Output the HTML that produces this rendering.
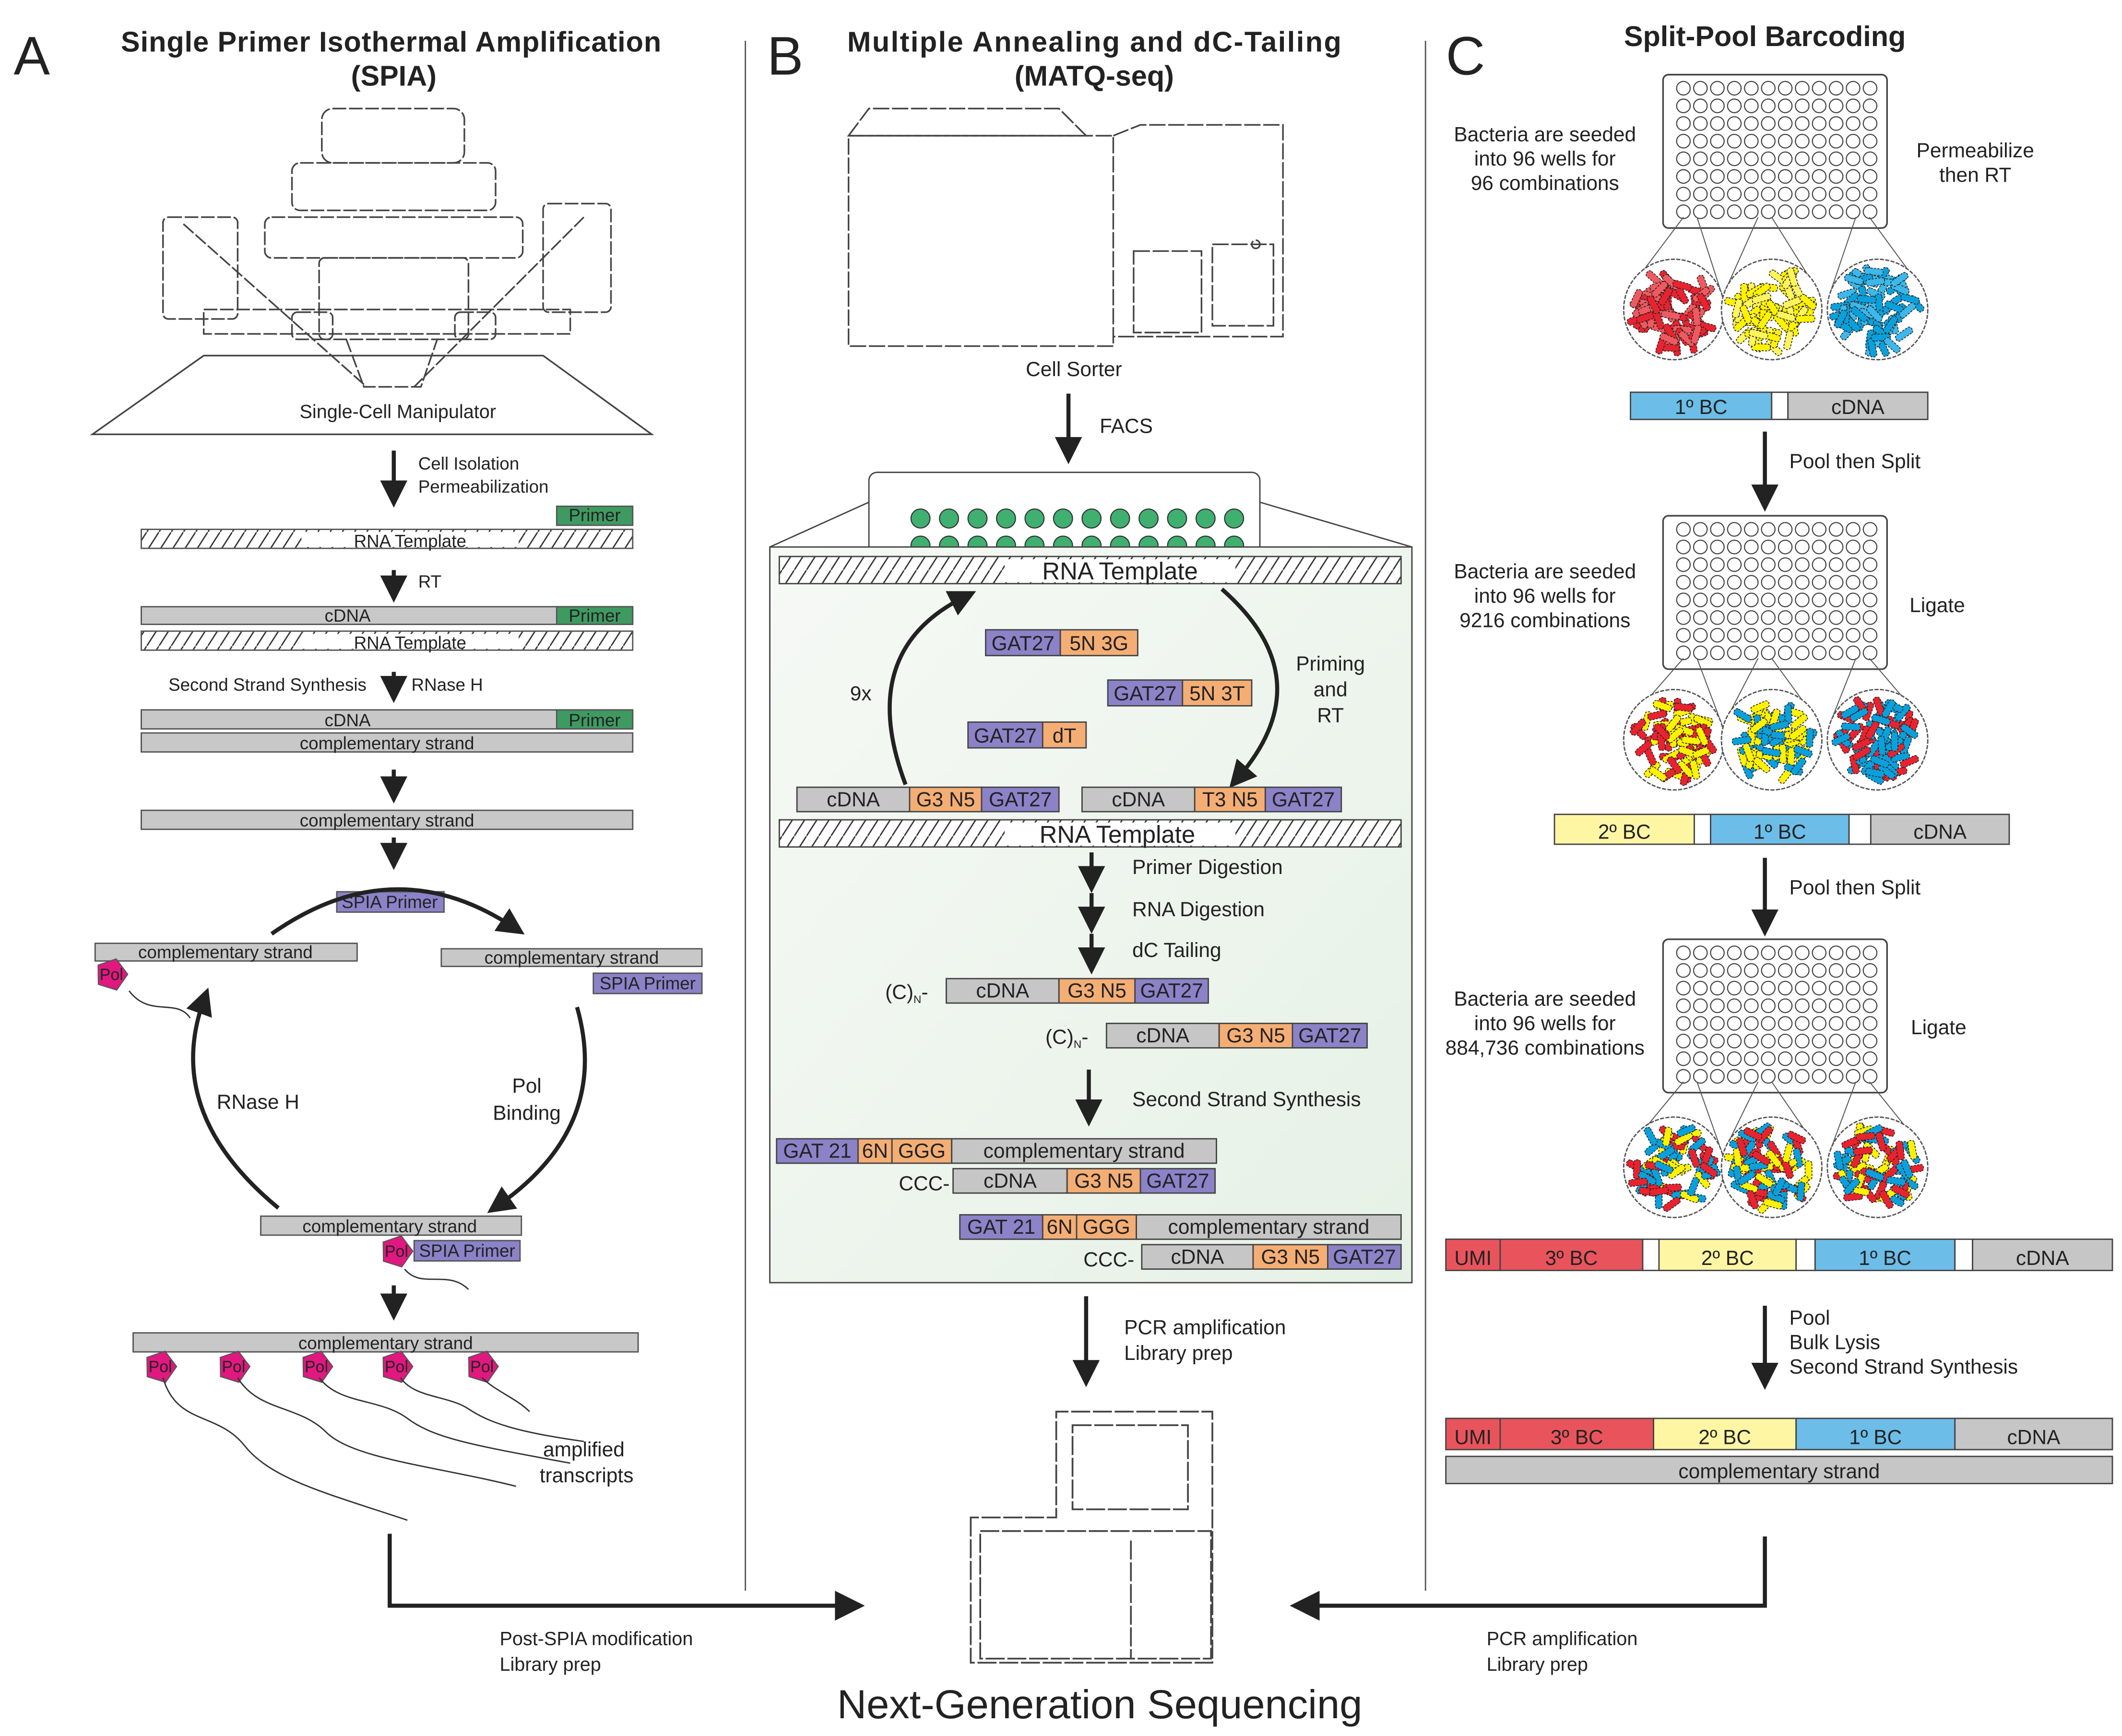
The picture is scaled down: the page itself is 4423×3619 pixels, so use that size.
<!DOCTYPE html>
<html><head><meta charset="utf-8"><style>
html,body{margin:0;padding:0;background:#fff;}
svg{display:block;}
text{font-family:"Liberation Sans",sans-serif;fill:#222;}
</style></head><body>
<svg id="s" xmlns="http://www.w3.org/2000/svg" width="4423" height="3619" viewBox="0 0 1563 1279">
<defs>
<pattern id="h" width="9" height="14" patternUnits="userSpaceOnUse"><rect width="9" height="14" fill="#fff"/><line x1="0" y1="14" x2="9" y2="0" stroke="#333" stroke-width="1"/></pattern>
<marker id="ar" markerWidth="20" markerHeight="20" refX="8" refY="8" orient="auto" markerUnits="userSpaceOnUse" viewBox="0 0 16 16"><path d="M0,0 L16,8 L0,16 z" fill="#222"/></marker>
<linearGradient id="gp" x1="0" y1="0" x2="1" y2="1"><stop offset="0" stop-color="#f6f9f5"/><stop offset="1" stop-color="#e6f1e6"/></linearGradient>
</defs>
<rect width="1563" height="1279" fill="#fff"/>
<line x1="549" y1="30" x2="549" y2="1172" stroke="#555" stroke-width="1"/>
<line x1="1050" y1="30" x2="1050" y2="1172" stroke="#555" stroke-width="1"/>
<text x="10" y="55" font-size="40">A</text>
<text x="565" y="55" font-size="40">B</text>
<text x="1065" y="55" font-size="40">C</text>
<g font-weight="bold" font-size="21" text-anchor="middle">
<text x="288" y="38" textLength="398">Single Primer Isothermal Amplification</text>
<text x="290" y="63">(SPIA)</text>
<text x="806" y="38" textLength="364">Multiple Annealing and dC-Tailing</text>
<text x="806" y="63">(MATQ-seq)</text>
<text x="1300" y="34">Split-Pool Barcoding</text>
</g>

<!-- Panel A microscope -->
<g fill="none" stroke="#444" stroke-width="1.2" stroke-dasharray="10 2">
<path d="M68,320 L480,320 L400,262 L150,262 Z" stroke-dasharray="none"/>
<rect x="237" y="80" width="105" height="40" rx="8"/>
<rect x="215" y="120" width="150" height="35" rx="6"/>
<rect x="195" y="160" width="190" height="30" rx="5"/>
<rect x="235" y="190" width="110" height="60" rx="4"/>
<rect x="120" y="160" width="55" height="75" rx="4"/>
<rect x="400" y="150" width="50" height="80" rx="4"/>
<rect x="150" y="228" width="270" height="18"/>
<line x1="135" y1="165" x2="270" y2="285"/>
<line x1="430" y1="160" x2="305" y2="285"/>
<rect x="215" y="230" width="30" height="20" rx="4"/>
<rect x="335" y="230" width="30" height="20" rx="4"/>
<path d="M255,250 L268,285 L310,285 L322,250"/>
</g>
<text x="293" y="308" font-size="14" text-anchor="middle">Single-Cell Manipulator</text>
<g stroke="#222" stroke-width="3" marker-end="url(#ar)">
<line x1="290" y1="332" x2="290" y2="364"/>
<line x1="290" y1="420" x2="290" y2="434"/>
<line x1="290" y1="495" x2="290" y2="508"/>
<line x1="290" y1="567" x2="290" y2="582"/>
<line x1="290" y1="617" x2="290" y2="631"/>
<line x1="290" y1="947" x2="290" y2="963"/>
</g>
<g font-size="13">
<text x="308" y="346">Cell Isolation</text><text x="308" y="363">Permeabilization</text>
<text x="308" y="433">RT</text>
<text x="124" y="509">Second Strand Synthesis</text><text x="303" y="509">RNase H</text>
</g>
<g stroke="#555" stroke-width="1">
<rect x="104" y="390" width="362" height="14" fill="url(#h)"/>
<rect x="410" y="373" width="56" height="14" fill="#3f9a62"/>
<rect x="104" y="447" width="362" height="13" fill="#c8c8c8"/>
<rect x="410" y="447" width="56" height="13" fill="#3f9a62"/>
<rect x="104" y="465" width="362" height="14" fill="url(#h)"/>
<rect x="104" y="523" width="362" height="14" fill="#c8c8c8"/>
<rect x="410" y="523" width="56" height="14" fill="#3f9a62"/>
<rect x="104" y="540" width="362" height="14" fill="#c8c8c8"/>
<rect x="104" y="597" width="362" height="14" fill="#c8c8c8"/>
<rect x="248" y="657" width="79" height="15" fill="#8b82c8"/>
<rect x="70" y="695" width="193" height="13" fill="#c8c8c8"/>
<rect x="325" y="699" width="192" height="13" fill="#c8c8c8"/>
<rect x="437" y="717" width="80" height="15" fill="#8b82c8"/>
<rect x="192" y="896" width="192" height="14" fill="#c8c8c8"/>
<rect x="305" y="914" width="78" height="15" fill="#8b82c8"/>
<rect x="98" y="982" width="372" height="14" fill="#c8c8c8"/>
</g>
<g font-size="13" text-anchor="middle">
<rect x="222" y="392" width="160" height="11" fill="#fff"/>
<text x="302" y="403">RNA Template</text>
<text x="438" y="384" fill="#e8f5ea">Primer</text>
<text x="256" y="458">cDNA</text><text x="438" y="458" fill="#e8f5ea">Primer</text>
<rect x="222" y="467" width="160" height="11" fill="#fff"/>
<text x="302" y="478">RNA Template</text>
<text x="256" y="535">cDNA</text><text x="438" y="535" fill="#e8f5ea">Primer</text>
<text x="285" y="552">complementary strand</text>
<text x="285" y="609">complementary strand</text>
<text x="287" y="669" fill="#fff">SPIA Primer</text>
<text x="166" y="706">complementary strand</text>
<text x="421" y="710">complementary strand</text>
<text x="477" y="729" fill="#fff">SPIA Primer</text>
<text x="287" y="908">complementary strand</text>
<text x="344" y="926" fill="#fff">SPIA Primer</text>
<text x="284" y="994">complementary strand</text>
</g>
<g fill="none" stroke="#222" stroke-width="3">
<path d="M200,688 Q290,625 378,683" marker-end="url(#ar)"/>
<path d="M425,742 Q450,830 367,888" marker-end="url(#ar)"/>
<path d="M205,890 Q120,820 150,737" marker-end="url(#ar)"/>
</g>
<text x="190" y="817" font-size="15" text-anchor="middle">RNase H</text>
<text x="388" y="805" font-size="15" text-anchor="middle">Pol</text>
<text x="388" y="825" font-size="15" text-anchor="middle">Binding</text>
<g id="pols"></g>
<g fill="none" stroke="#333" stroke-width="1">
<path d="M95,730 C110,750 130,735 140,750"/>
<path d="M298,935 C310,950 330,935 345,950"/>
<path d="M120,1015 C130,1050 160,1040 180,1065 S240,1100 300,1120"/>
<path d="M175,1015 C190,1040 220,1035 240,1055 S320,1080 380,1095"/>
<path d="M235,1015 C250,1035 280,1030 300,1045 S350,1065 420,1078"/>
<path d="M295,1015 C305,1030 330,1028 345,1038 S380,1055 430,1062"/>
<path d="M355,1015 C365,1025 380,1030 390,1040"/>
</g>
<text x="430" y="1073" font-size="15" text-anchor="middle">amplified</text>
<text x="432" y="1092" font-size="15" text-anchor="middle">transcripts</text>
<path d="M287,1130 L287,1183 L625,1183" fill="none" stroke="#222" stroke-width="3"/>
<path d="M615,1172 L637,1183 L615,1194 z" fill="#222"/>
<text x="368" y="1212" font-size="14">Post-SPIA modification</text>
<text x="368" y="1231" font-size="14">Library prep</text>

<!-- Panel B -->
<g fill="none" stroke="#444" stroke-width="1.2" stroke-dasharray="12 2">
<path d="M625,100 L640,80 L780,80 L800,100 Z"/>
<rect x="625" y="100" width="195" height="155"/>
<path d="M820,100 L840,92 L945,92 L945,248 L820,248"/>
<rect x="835" y="185" width="50" height="60"/>
<rect x="893" y="180" width="45" height="60"/>
<circle cx="925" cy="180" r="3"/>
</g>
<text x="791" y="277" font-size="15" text-anchor="middle">Cell Sorter</text>
<text x="810" y="319" font-size="15">FACS</text>
<rect x="640" y="348" width="288" height="62" rx="6" fill="#fff" stroke="#444"/>
<g id="wellsB"></g>
<rect x="567" y="403" width="473" height="542" fill="url(#gp)" stroke="#444"/>
<line x1="567" y1="403" x2="640" y2="370" stroke="#444"/>
<line x1="1040" y1="403" x2="928" y2="370" stroke="#444"/>
<g stroke="#222" stroke-width="3" marker-end="url(#ar)">
<line x1="787" y1="290" x2="787" y2="332"/>
<line x1="804" y1="628" x2="804" y2="648"/>
<line x1="804" y1="658" x2="804" y2="678"/>
<line x1="804" y1="688" x2="804" y2="708"/>
<line x1="802" y1="788" x2="802" y2="820"/>
<line x1="800" y1="955" x2="800" y2="1012"/>
</g>
<g stroke="#444" stroke-width="1">
<rect x="574" y="410" width="458" height="20" fill="url(#h)"/>
<rect x="574" y="604" width="458" height="20" fill="url(#h)"/>
</g>
<rect x="740" y="412" width="170" height="17" fill="#fff"/>
<rect x="740" y="606" width="170" height="17" fill="#fff"/>
<text x="825" y="427" font-size="18" text-anchor="middle">RNA Template</text>
<text x="823" y="621" font-size="18" text-anchor="middle">RNA Template</text>
<g fill="none" stroke="#222" stroke-width="3">
<path d="M667,578 Q630,480 710,440" marker-end="url(#ar)"/>
<path d="M900,434 Q975,500 912,573" marker-end="url(#ar)"/>
</g>
<text x="634" y="516" font-size="15" text-anchor="middle">9x</text>
<g font-size="15" text-anchor="middle"><text x="980" y="494">Priming</text><text x="980" y="513">and</text><text x="980" y="532">RT</text></g>
<g id="segs" font-size="15"></g>
<g font-size="15">
<text x="834" y="644">Primer Digestion</text>
<text x="834" y="675">RNA Digestion</text>
<text x="834" y="705">dC Tailing</text>
<text x="834" y="815">Second Strand Synthesis</text>
<text x="652" y="736">(C)<tspan font-size="8" dy="3">N</tspan><tspan dy="-3">-</tspan></text>
<text x="770" y="769">(C)<tspan font-size="8" dy="3">N</tspan><tspan dy="-3">-</tspan></text>
<text x="662" y="877">CCC-</text>
<text x="798" y="933">CCC-</text>
<text x="828" y="983">PCR amplification</text>
<text x="828" y="1002">Library prep</text>
</g>
<!-- sequencer -->
<g fill="none" stroke="#444" stroke-width="1.3" stroke-dasharray="14 2">
<path d="M715,1118 L715,1225 L893,1225 L893,1040 L778,1040 L778,1118 Z"/>
<rect x="790" y="1050" width="85" height="62"/>
<rect x="722" y="1128" width="170" height="94"/>
<line x1="833" y1="1135" x2="833" y2="1222"/>
</g>
<text x="810" y="1266" font-size="30" text-anchor="middle">Next-Generation Sequencing</text>

<!-- Panel C -->
<g id="plates"></g>
<g font-size="15" text-anchor="middle">
<text x="1138" y="104">Bacteria are seeded</text><text x="1138" y="122">into 96 wells for</text><text x="1138" y="140">96 combinations</text>
<text x="1455" y="116">Permeabilize</text><text x="1455" y="134">then RT</text>
<text x="1138" y="426">Bacteria are seeded</text><text x="1138" y="444">into 96 wells for</text><text x="1138" y="462">9216 combinations</text>
<text x="1427" y="451">Ligate</text>
<text x="1138" y="741">Bacteria are seeded</text><text x="1138" y="759">into 96 wells for</text><text x="1138" y="777">884,736 combinations</text>
<text x="1428" y="762">Ligate</text>
</g>
<g stroke="#222" stroke-width="3" marker-end="url(#ar)">
<line x1="1300" y1="318" x2="1300" y2="367"/>
<line x1="1300" y1="632" x2="1300" y2="680"/>
<line x1="1300" y1="962" x2="1300" y2="1014"/>
</g>
<g font-size="15">
<text x="1318" y="345">Pool then Split</text>
<text x="1318" y="659">Pool then Split</text>
<text x="1318" y="976">Pool</text><text x="1318" y="994">Bulk Lysis</text><text x="1318" y="1012">Second Strand Synthesis</text>
</g>
<g id="bars" font-size="15"></g>
<path d="M1300,1132 L1300,1183 L962,1183" fill="none" stroke="#222" stroke-width="3"/>
<path d="M972,1172 L950,1183 L972,1194 z" fill="#222"/>
<text x="1095" y="1212" font-size="14">PCR amplification</text>
<text x="1095" y="1231" font-size="14">Library prep</text>
</svg>
<script>
var NS="http://www.w3.org/2000/svg";
function el(p,t,a,txt){var e=document.createElementNS(NS,t);for(var k in a)e.setAttribute(k,a[k]);if(txt!=null)e.textContent=txt;p.appendChild(e);return e;}
var pg=document.getElementById('pols');
[[82,718],[292,922],[118,1007],[172,1007],[233,1007],[292,1007],[355,1007]].forEach(function(p){
var x=p[0],y=p[1],r=12,pts=[];for(var i=0;i<5;i++){var a=-Math.PI/2+i*2*Math.PI/5+0.3;pts.push((x+r*Math.cos(a)).toFixed(1)+','+(y+r*Math.sin(a)).toFixed(1));}
el(pg,'polygon',{points:pts.join(' '),fill:'#e0187f',stroke:'#555','stroke-width':0.8});
el(pg,'text',{x:x,y:y+4,'font-size':12,'text-anchor':'middle',fill:'#fff'},'Pol');});
var wb=document.getElementById('wellsB');
for(var r=0;r<2;r++)for(var c=0;c<12;c++)el(wb,'circle',{cx:678+c*21,cy:382+r*20,r:7,fill:'#3fb070',stroke:'#333','stroke-width':0.8});
var P='#8b82c8',O='#f4ae74',G='#c6c6c6';
var segs=document.getElementById('segs');
function seg(x1,x2,y,h,f,t,col){el(segs,'rect',{x:x1,y:y,width:x2-x1,height:h,fill:f,stroke:'#444','stroke-width':1});el(segs,'text',{x:(x1+x2)/2,y:y+h-4,'text-anchor':'middle',fill:col||'#222'},t);}
seg(726,781,464,19,P,'GAT27');seg(781,838,464,19,O,'5N 3G');
seg(816,871,501,19,P,'GAT27');seg(871,922,501,19,O,'5N 3T');
seg(713,768,532,19,P,'GAT27');seg(768,800,532,19,O,'dT');
seg(587,670,580,18,G,'cDNA');seg(670,723,580,18,O,'G3 N5');seg(723,780,580,18,P,'GAT27');
seg(797,880,580,18,G,'cDNA');seg(880,932,580,18,O,'T3 N5');seg(932,988,580,18,P,'GAT27');
seg(697,780,721,18,G,'cDNA');seg(780,836,721,18,O,'G3 N5');seg(836,890,721,18,P,'GAT27');
seg(815,898,754,18,G,'cDNA');seg(898,952,754,18,O,'G3 N5');seg(952,1007,754,18,P,'GAT27');
seg(572,632,839,18,P,'GAT 21');seg(632,657,839,18,O,'6N');seg(657,701,839,18,O,'GGG');seg(701,896,839,18,G,'complementary strand');
seg(702,786,861,18,G,'cDNA');seg(786,840,861,18,O,'G3 N5');seg(840,895,861,18,P,'GAT27');
seg(707,768,895,18,P,'GAT 21');seg(768,793,895,18,O,'6N');seg(793,837,895,18,O,'GGG');seg(837,1032,895,18,G,'complementary strand');
seg(841,923,917,18,G,'cDNA');seg(923,978,917,18,O,'G3 N5');seg(978,1032,917,18,P,'GAT27');
var bars=document.getElementById('bars');segs=bars;
var B='#6cbde8',Y='#fff6a4',R='#e9545c',W='#fff';
seg(1201,1305,289,20,B,'1º BC');seg(1305,1317,289,20,W,'');seg(1317,1420,289,20,G,'cDNA');
seg(1145,1248,600,22,Y,'2º BC');seg(1248,1260,600,22,W,'');seg(1260,1362,600,22,B,'1º BC');seg(1362,1378,600,22,W,'');seg(1378,1480,600,22,G,'cDNA');
seg(1065,1105,913,23,R,'UMI');seg(1105,1210,913,23,R,'3º BC');seg(1210,1222,913,23,W,'');seg(1222,1323,913,23,Y,'2º BC');seg(1323,1337,913,23,W,'');seg(1337,1440,913,23,B,'1º BC');seg(1440,1453,913,23,W,'');seg(1453,1556,913,23,G,'cDNA');
seg(1065,1105,1045,23,R,'UMI');seg(1105,1218,1045,23,R,'3º BC');seg(1218,1323,1045,23,Y,'2º BC');seg(1323,1440,1045,23,B,'1º BC');seg(1440,1556,1045,23,G,'cDNA');
seg(1065,1556,1073,20,G,'complementary strand');
var pl=document.getElementById('plates');
var seed=7;function rnd(){seed=(seed*9301+49297)%233280;return seed/233280;}
function plate2(y0,cy,sets){
el(pl,'rect',{x:1225,y:y0,width:165,height:113,rx:4,fill:'#fff',stroke:'#444','stroke-width':1.2});
for(var r=0;r<8;r++)for(var c=0;c<12;c++)el(pl,'circle',{cx:1240+c*12.5,cy:y0+10+r*13,r:5,fill:'#fff',stroke:'#444','stroke-width':0.8});
var cxs=[1233,1305,1383],src=[1245,1300,1372];
for(var i=0;i<3;i++){var cx=cxs[i],cols=sets[i];
el(pl,'line',{x1:src[i]-5,y1:y0+105,x2:cx-35,y2:cy-12,stroke:'#555','stroke-width':0.7});
el(pl,'line',{x1:src[i]+5,y1:y0+105,x2:cx+35,y2:cy-12,stroke:'#555','stroke-width':0.7});
el(pl,'circle',{cx:cx,cy:cy,r:37,fill:'#fff',stroke:'#555','stroke-dasharray':'3 1'});
for(var k=0;k<70;k++){var a=rnd()*6.283,d=Math.sqrt(rnd())*29,x=cx+d*Math.cos(a),y=cy+d*Math.sin(a),ang=rnd()*180;
var c=cols[Math.floor(rnd()*cols.length)];
el(pl,'rect',{x:x-7,y:y-2.5,width:14,height:5,rx:2,fill:c,stroke:'#222','stroke-width':0.6,'stroke-dasharray':'1.5 1',transform:'rotate('+ang+' '+x+' '+y+')'});}}
}
var r1=['#e8232f','#ee5a60'],y1=['#fff200','#fff45a'],b1=['#0aa0dc','#3cb8ea'];
plate2(55,228,[r1,y1,b1]);
plate2(380,545,[['#fff200','#e8232f'],['#fff200','#0aa0dc'],['#0aa0dc','#e8232f']]);
plate2(692,860,[['#e8232f','#0aa0dc','#fff200'],['#fff200','#0aa0dc','#e8232f'],['#e8232f','#fff200','#0aa0dc']]);
</script>
</body></html>
